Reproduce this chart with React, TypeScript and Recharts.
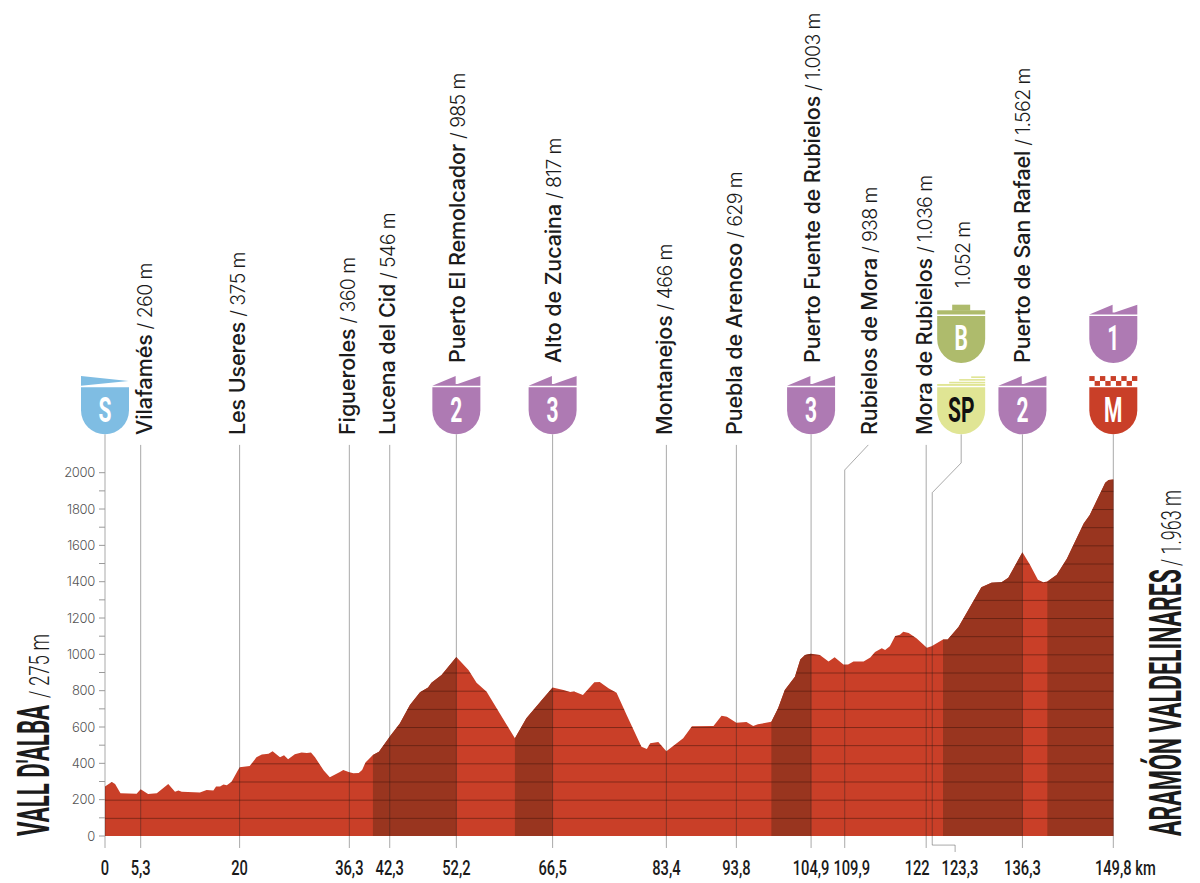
import { ComposedChart, Area, XAxis, YAxis, ReferenceLine, ReferenceDot } from 'recharts'

const T = {
  red: '#C93F28', dark: '#99351F', grid: 'rgba(70,20,10,0.55)', rule: 'rgba(30,30,30,0.38)',
  text: '#1B1B1B', muted: '#555555', purple: '#AE7AB3', blue: '#7FBDE3',
  olive: '#AEBB6C', yellow: '#E0E594',
} as const

const W = 1200
const H = 883
const PLOT_LEFT = 105
const PLOT_RIGHT = 1113.3
const PLOT_TOP = 472.7
const PLOT_BOTTOM = 836

// profile
const kmPoints = [
  0, 1, 1.5, 2.3, 4.7, 5.3, 6.4, 7.7, 9.4, 10.4, 10.9, 11.4, 14.1, 15.1, 16.1, 16.5, 17.1, 17.6, 18.1, 18.8,
  20, 21.5, 22.5, 23.3, 24.3, 24.9, 26, 26.6, 27.2, 28.2, 29.2, 30, 30.6, 31.2, 32.5, 33.4, 34.9, 35.4, 36.2, 36.9,
  37.7, 38.2, 38.7, 39.8, 40.7, 42.4, 43.8, 45.3, 46.8, 48, 48.5, 50, 52.2, 54, 55.2, 56.7, 60.9, 62.6, 64.9, 66.5,
  68.1, 69.1, 69.7, 71, 72.7, 73.5, 74.8, 76, 77.5, 79.7, 80.5, 81, 82.2, 83.4, 85.9, 87.2, 90.4, 91.6, 92.4, 93.8,
  95.3, 96.3, 97, 99, 100, 101, 102.5, 103.3, 104, 104.9, 106.2, 107.5, 108.4, 109.7, 110.4, 111.2, 112.7, 113.7, 114.4, 115.4,
  115.9, 116.6, 117.4, 118.1, 118.6, 119.4, 120.6, 122.1, 122.8, 124.5, 125.2, 126.8, 130.2, 131.7, 133.2, 134.2, 136.3, 137.4, 138.6, 139.4,
  140, 141.4, 142.9, 145.4, 146.3, 148.6, 149.1, 149.8,
]
const elevation = [
  272, 297, 286, 235, 233, 257, 231, 235, 286, 244, 251, 244, 240, 253, 251, 272, 272, 283, 279, 299,
  378, 385, 433, 448, 453, 466, 433, 444, 422, 450, 460, 457, 460, 433, 360, 323, 352, 363, 352, 345,
  347, 363, 404, 446, 464, 552, 620, 721, 791, 818, 844, 886, 985, 914, 844, 794, 538, 648, 749, 817,
  804, 793, 796, 776, 846, 848, 813, 789, 666, 492, 479, 510, 517, 466, 538, 604, 606, 662, 657, 624,
  628, 606, 615, 629, 703, 804, 877, 971, 997, 1003, 997, 961, 984, 944, 944, 961, 961, 982, 1013, 1034,
  1024, 1045, 1101, 1108, 1124, 1118, 1087, 1036, 1045, 1082, 1082, 1150, 1369, 1394, 1397, 1422, 1562, 1495, 1411, 1397,
  1401, 1438, 1526, 1721, 1767, 1945, 1960, 1963,
]
const climbStarts = [39.8, 60.9, 99, 124.5, 140]
const climbEnds = [52.2, 66.5, 104.9, 136.3, 149.8]

const yTicks = [0, 100, 200, 300, 400, 500, 600, 700, 800, 900, 1000, 1100, 1200, 1300, 1400, 1500, 1600, 1700, 1800, 1900, 2000]

const tickKm = [0, 5.3, 20, 36.3, 42.3, 52.2, 66.5, 83.4, 93.8, 104.9, 109.9, 122, 123.3, 136.3, 149.8]
const tickLabels = ['0', '5,3', '20', '36,3', '42,3', '52,2', '66,5', '83,4', '93,8', '104,9', '109,9', '122', '123,3', '136,3', '149,8 km']

// waypoints along the top, with their plain stems
const placeKm = [5.3, 20, 36.3, 42.3, 52.2, 66.5, 83.4, 93.8, 104.9, 109.9, 122, 136.3]
const placeNames = [
  'Vilafamés', 'Les Useres', 'Figueroles', 'Lucena del Cid', 'Puerto El Remolcador', 'Alto de Zucaina', 'Montanejos',
  'Puebla de Arenoso', 'Puerto Fuente de Rubielos', 'Rubielos de Mora', 'Mora de Rubielos', 'Puerto de San Rafael',
]
const placeHeights = ['260 m', '375 m', '360 m', '546 m', '985 m', '817 m', '466 m', '629 m', '1.003 m', '938 m', '1.036 m', '1.562 m']

const stemKm = [0, 5.3, 20, 36.3, 42.3, 52.2, 66.5, 83.4, 93.8, 104.9, 122, 136.3, 149.8]
const stemTops = [2211, 2153, 2153, 2153, 2153, 2211, 2211, 2153, 2153, 2211, 2153, 2211, 2211]

// the two stems that bend away from their badge or label
const rubielosLeader: [number, number][] = [[109.9, -66], [109.9, 2015], [113.4, 2153]]
const sprintLeader: [number, number][] = [[126.3, -88], [126.3, -50], [122.9, -50], [122.9, 1890], [127.2, 2054], [127.2, 2211]]

const badgeKm = [0, 52.2, 66.5, 104.9, 127.2, 136.3, 149.8, 127.2, 149.8]
const badgeBottoms = [2211, 2211, 2211, 2211, 2211, 2211, 2211, 2604, 2604]
const badgeLetters = ['S', '2', '3', '3', 'SP', '2', 'M', 'B', '1']
const badgeKinds = ['start', 'climb', 'climb', 'climb', 'sprint', 'climb', 'finish', 'bonus', 'climb']

const chartData = kmPoints.map((km, i) => {
  const inClimb = climbStarts.some((s, c) => km >= s && km <= climbEnds[c])
  return { km, elevation: elevation[i], climb: inClimb ? elevation[i] : null }
})

const NARROW = 'Roboto, sans-serif'
const LABEL = 'Inter, sans-serif'

// nudges for tick labels that sit off their km, like in the print layout
const tickNudge: Record<string, number> = { '109,9': 7, '122': -9, '123,3': 25, '149,8 km': 12 }

function KmTick({ x, payload }: any) {
  const i = tickKm.indexOf(payload.value)
  const label = tickLabels[i] ?? ''
  const dx = tickNudge[label] ?? 0
  return (
    <text
      transform={`translate(${x + dx},875) scale(0.7,1)`}
      textAnchor="middle"
      style={{ fontFamily: NARROW, fontSize: 21, fontWeight: 500, fill: T.text }}
    >
      {label}
    </text>
  )
}

function ElevationTick({ x, y, payload }: any) {
  if (payload.value % 200 !== 0) return null
  return (
    <text
      x={x}
      y={y + 4.5}
      textAnchor="end"
      style={{ fontFamily: LABEL, fontSize: 13, fontWeight: 300, fill: T.muted, letterSpacing: -0.3 }}
    >
      {payload.value}
    </text>
  )
}

function BadgeHeader({ kind, cx, cy }: { kind: string; cx: number; cy: number }) {
  if (kind === 'start') {
    return <polygon points={`${cx - 24},${cy - 58.3} ${cx + 23.5},${cy - 53.4} ${cx - 24},${cy - 48.6}`} fill={T.blue} />
  }
  if (kind === 'climb') {
    const pts = [
      [-24, -48.6], [-0.7, -58.3], [-0.7, -50.4], [1.3, -50.4], [24, -58.3], [24, -48.6],
    ]
    return <polygon points={pts.map(([a, b]) => `${cx + a},${cy + b}`).join(' ')} fill={T.purple} />
  }
  if (kind === 'bonus') {
    return (
      <g fill={T.olive}>
        <rect x={cx - 24} y={cy - 52.7} width={48} height={4.2} />
        <rect x={cx - 9} y={cy - 58.3} width={18} height={6} />
      </g>
    )
  }
  if (kind === 'sprint') {
    return (
      <g fill={T.yellow}>
        <rect x={cx + 10} y={cy - 58} width={14} height={1.6} />
        <rect x={cx - 2} y={cy - 55.3} width={26} height={1.6} />
        <rect x={cx - 12} y={cy - 52.6} width={36} height={1.6} />
        <rect x={cx - 24} y={cy - 50.4} width={48} height={1.9} />
      </g>
    )
  }
  // finish: two rows of checks
  const cell = 48 / 9
  return (
    <g fill={T.red}>
      {[0, 1, 2, 3, 4, 5, 6, 7, 8].map((i) => (
        <rect key={i} x={cx - 24 + i * cell} y={i % 2 === 0 ? cy - 58.3 : cy - 53.4} width={cell} height={4.9} />
      ))}
    </g>
  )
}

function Badge({ cx, cy, letter, kind }: any) {
  const fills: Record<string, string> = {
    start: T.blue, climb: T.purple, bonus: T.olive, sprint: T.yellow, finish: T.red,
  }
  const isSprint = kind === 'sprint'
  return (
    <g>
      <BadgeHeader kind={kind} cx={cx} cy={cy} />
      <path
        d={`M${cx - 24},${cy - 47} H${cx + 24} V${cy - 24} A24,24 0 0 1 ${cx - 24},${cy - 24} Z`}
        fill={fills[kind]}
      />
      <text
        transform={`translate(${cx},${cy - 12.5}) scale(0.6,1)`}
        textAnchor="middle"
        style={{ fontFamily: NARROW, fontSize: 35, fontWeight: 700, fill: isSprint ? '#111' : '#fff' }}
      >
        {letter}
      </text>
    </g>
  )
}

const nameNudge: Record<string, number> = {
  'Vilafamés': 11, 'Puerto El Remolcador': 9, 'Alto de Zucaina': 8.5, 'Puerto Fuente de Rubielos': 9,
  'Rubielos de Mora': 32, 'Puerto de San Rafael': 8,
}
// names that start above their badge instead of beside it
const raisedNames = ['Puerto El Remolcador', 'Alto de Zucaina', 'Puerto Fuente de Rubielos', 'Puerto de San Rafael']

function PlaceLabel({ cx, name, height }: any) {
  const dx = nameNudge[name] ?? 5.5
  const bottom = raisedNames.includes(name) ? 363 : 435
  return (
    <text
      transform={`translate(${cx + dx},${bottom}) rotate(-90)`}
      style={{ fontFamily: LABEL, fontSize: 21.5, fontWeight: 500, fill: T.text, letterSpacing: -0.1 }}
    >
      {name}
      <tspan style={{ fontWeight: 300, fontSize: 19.5, letterSpacing: -0.6 }}>{` / ${height}`}</tspan>
    </text>
  )
}

function Leader({ points }: { points: [number, number][] }) {
  return (
    <>
      {points.slice(1).map((p, i) => (
        <ReferenceLine
          key={i}
          segment={[{ x: points[i][0], y: points[i][1] }, { x: p[0], y: p[1] }]}
          stroke={T.rule}
          strokeWidth={1}
          ifOverflow="visible"
          isFront
        />
      ))}
    </>
  )
}

function EndLabel({ x, name, nameLen, height, heightStart, heightLen }: any) {
  return (
    <g>
      <text
        transform={`translate(${x},836) rotate(-90)`}
        textLength={nameLen}
        lengthAdjust="spacingAndGlyphs"
        style={{ fontFamily: NARROW, fontSize: 45, fontWeight: 700, fill: T.text }}
      >
        {name}
      </text>
      <text
        transform={`translate(${x},${836 - heightStart}) rotate(-90)`}
        textLength={heightLen}
        lengthAdjust="spacingAndGlyphs"
        style={{ fontFamily: NARROW, fontSize: 27, fontWeight: 300, fill: T.text }}
      >
        {height}
      </text>
    </g>
  )
}

export default function App() {
  const stepPx = (PLOT_BOTTOM - PLOT_TOP) / 20
  return (
    <div style={{ position: 'absolute', left: 0, top: 0, width: W, height: H, background: '#fff' }}>
      <ComposedChart
        width={W}
        height={H}
        data={chartData}
        margin={{ top: PLOT_TOP, right: W - PLOT_RIGHT, left: 0, bottom: 0 }}
      >
        <defs>
          <pattern id="gridLines" patternUnits="userSpaceOnUse" x={0} y={PLOT_TOP} width={10} height={stepPx}>
            <rect x={0} y={0} width={10} height={1} fill={T.grid} />
          </pattern>
        </defs>
        <XAxis
          dataKey="km"
          type="number"
          domain={[0, 149.8]}
          ticks={tickKm}
          interval={0}
          height={H - PLOT_BOTTOM}
          axisLine={false}
          tickLine={false}
          tick={<KmTick />}
        />
        <YAxis
          type="number"
          domain={[0, 2000]}
          ticks={yTicks}
          interval={0}
          width={PLOT_LEFT}
          axisLine={false}
          tickSize={6}
          tickMargin={4}
          tickLine={{ stroke: '#9A9A9A', strokeWidth: 1 }}
          tick={<ElevationTick />}
        />
        <Area dataKey="elevation" type="linear" stroke="none" fill={T.red} fillOpacity={1} dot={false} activeDot={false} isAnimationActive={false} />
        <Area dataKey="climb" type="linear" stroke="none" fill={T.dark} fillOpacity={1} dot={false} activeDot={false} isAnimationActive={false} />
        <Area dataKey="elevation" type="linear" stroke="none" fill="url(#gridLines)" fillOpacity={1} dot={false} activeDot={false} isAnimationActive={false} />
        {stemKm.map((km, i) => (
          <ReferenceLine
            key={km}
            segment={[{ x: km, y: -66 }, { x: km, y: stemTops[i] }]}
            stroke={T.rule}
            strokeWidth={1}
            ifOverflow="visible"
            isFront
          />
        ))}
        {Leader({ points: rubielosLeader })}
        {Leader({ points: sprintLeader })}
        {badgeKm.map((km, i) => (
          <ReferenceDot
            key={`${km}-${i}`}
            x={km}
            y={badgeBottoms[i]}
            ifOverflow="visible"
            isFront
            shape={(p: any) => <Badge cx={p.cx} cy={p.cy} letter={badgeLetters[i]} kind={badgeKinds[i]} />}
          />
        ))}
        {placeKm.map((km, i) => (
          <ReferenceDot
            key={`place-${km}`}
            x={km}
            y={2211}
            ifOverflow="visible"
            isFront
            shape={(p: any) => <PlaceLabel cx={p.cx} name={placeNames[i]} height={placeHeights[i]} />}
          />
        ))}
        <text
          transform="translate(970,288) rotate(-90)"
          style={{ fontFamily: LABEL, fontSize: 19.5, fontWeight: 300, fill: T.text, letterSpacing: -0.6 }}
        >
          1.052 m
        </text>
        <EndLabel x={49} name="VALL D'ALBA" nameLen={131} height="/ 275 m" heightStart={138} heightLen={64} />
        <EndLabel x={1181} name="ARAMÓN VALDELINARES" nameLen={267} height="/ 1.963 m" heightStart={270} heightLen={76} />
      </ComposedChart>
    </div>
  )
}
